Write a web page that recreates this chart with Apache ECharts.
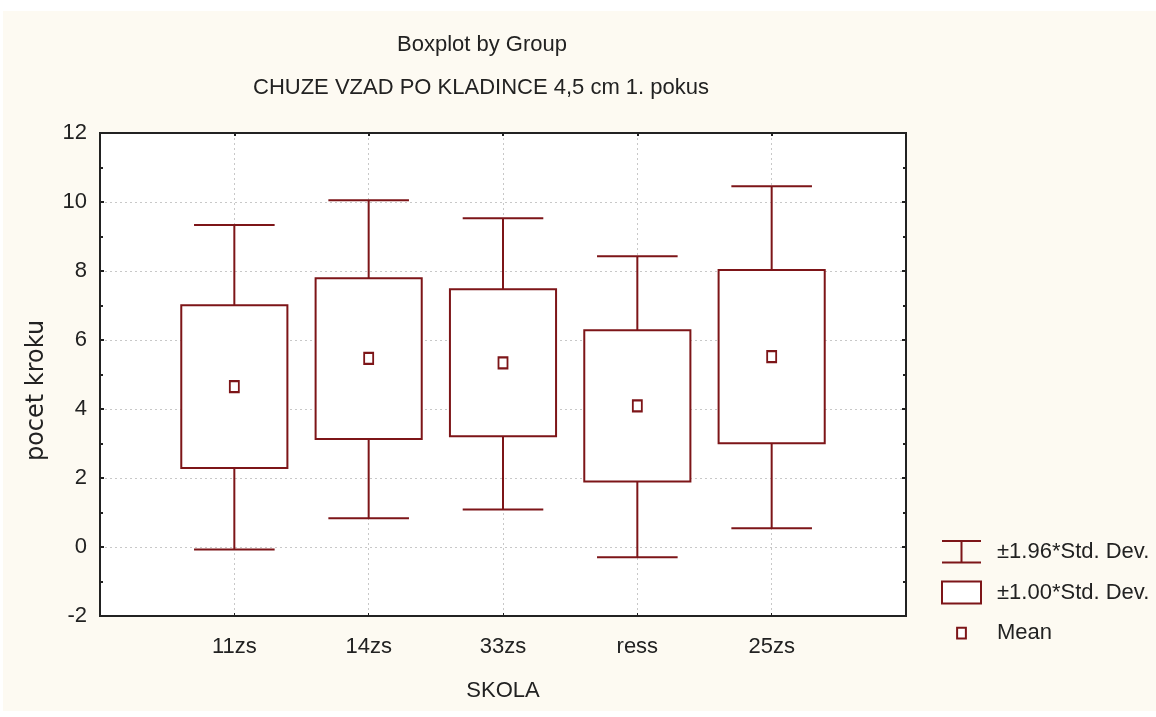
<!DOCTYPE html>
<html>
<head>
<meta charset="utf-8">
<script src="https://cdn.jsdelivr.net/npm/echarts@6/dist/echarts.min.js"></script>
<style>
html,body{margin:0;padding:0;background:#fff;}
#chart{width:1156px;height:717px;}
</style>
</head>
<body>
<div id="chart"></div>
<script>
// ---- data ----
var categories = ['11zs', '14zs', '33zs', 'ress', '25zs'];
var whiskerLow = [-0.07, 0.83, 1.09, -0.30, 0.54];   // mean - 1.96*SD
var boxLow     = [2.29, 3.13, 3.21, 1.90, 3.01];     // mean - 1.00*SD
var means      = [4.65, 5.47, 5.34, 4.09, 5.52];
var boxHigh    = [7.01, 7.79, 7.47, 6.28, 8.03];     // mean + 1.00*SD
var whiskerHigh= [9.33, 10.05, 9.53, 8.43, 10.46];   // mean + 1.96*SD
var yTicks     = [-2, 0, 2, 4, 6, 8, 10, 12];

var titleText = 'Boxplot by Group';
var subTitleText = 'CHUZE VZAD PO KLADINCE 4,5 cm 1. pokus';
var xName = 'SKOLA';
var yName = 'pocet kroku';
var legendNames = ['\u00b11.96*Std. Dev.', '\u00b11.00*Std. Dev.', 'Mean'];

// ---- build ----
var RED = '#7d1518';
var INK = '#222';
var FONT = "'Liberation Sans',Arial,sans-serif";
var axisCats = [''].concat(categories).concat(['']);

var whiskerData = categories.map(function (c, i) { return [i + 1, whiskerLow[i], boxLow[i], boxHigh[i], whiskerHigh[i]]; });
var boxData = categories.map(function (c, i) { return [i + 1, boxLow[i], boxHigh[i]]; });
var meanData = categories.map(function (c, i) { return [i + 1, means[i]]; });

var chart = echarts.init(document.getElementById('chart'), null, {renderer: 'canvas'});

function whiskerItem(params, api) {
  var x = api.value(0);
  var pWL = api.coord([x, api.value(1)]);
  var pBL = api.coord([x, api.value(2)]);
  var pBH = api.coord([x, api.value(3)]);
  var pWH = api.coord([x, api.value(4)]);
  var band = api.size([1, 0])[0];
  var cap = band * 0.6 / 2;
  var st = {stroke: RED, lineWidth: 2, fill: null};
  return {
    type: 'group',
    children: [
      {type: 'line', shape: {x1: pWL[0], y1: pWL[1], x2: pBL[0], y2: pBL[1]}, style: st},
      {type: 'line', shape: {x1: pBH[0], y1: pBH[1], x2: pWH[0], y2: pWH[1]}, style: st},
      {type: 'line', shape: {x1: pWL[0] - cap, y1: pWL[1], x2: pWL[0] + cap, y2: pWL[1]}, style: st},
      {type: 'line', shape: {x1: pWH[0] - cap, y1: pWH[1], x2: pWH[0] + cap, y2: pWH[1]}, style: st}
    ]
  };
}

function boxItem(params, api) {
  var x = api.value(0);
  var pL = api.coord([x, api.value(1)]);
  var pH = api.coord([x, api.value(2)]);
  var band = api.size([1, 0])[0];
  var w = band * 0.79;
  return {
    type: 'rect',
    shape: {x: pL[0] - w / 2, y: pH[1], width: w, height: pL[1] - pH[1]},
    style: {fill: '#fff', stroke: RED, lineWidth: 2}
  };
}

var option = {
  backgroundColor: '#fff',
  animation: false,
  graphic: [
    {type: 'rect', z: -100, shape: {x: 3, y: 11, width: 1153, height: 700}, style: {fill: '#fdfaf2'}, silent: true}
  ],
  title: [
    {text: titleText, left: 477, top: 29, textAlign: 'center',
     textStyle: {fontFamily: FONT, fontSize: 22, fontWeight: 'normal', color: INK}},
    {text: subTitleText, left: 476, top: 72, textAlign: 'center',
     textStyle: {fontFamily: FONT, fontSize: 22, fontWeight: 'normal', color: INK}}
  ],
  legend: {
    orient: 'vertical',
    left: 936, top: 535,
    itemWidth: 39, itemHeight: 22, itemGap: 17,
    selectedMode: false,
    textStyle: {fontFamily: FONT, fontSize: 22, lineHeight: 22, color: INK, padding: [0, 0, 0, 11]},
    data: [
      {name: legendNames[0], icon: 'path://M0,0H40M20,0V22M0,22H40',
       itemStyle: {color: 'transparent', borderColor: RED, borderWidth: 2}},
      {name: legendNames[1], icon: 'rect',
       itemStyle: {color: '#fff', borderColor: RED, borderWidth: 2}},
      {name: legendNames[2], icon: 'path://M0,0M40,22M15.5,5.5H24.5V16.5H15.5Z',
       itemStyle: {color: '#fff', borderColor: RED, borderWidth: 2}}
    ]
  },
  grid: {
    left: 100, top: 133, right: 250, bottom: 101,
    show: true, backgroundColor: '#fff', borderColor: INK, borderWidth: 2, containLabel: false
  },
  xAxis: [
    {
      type: 'category', data: axisCats, boundaryGap: false, position: 'bottom',
      name: xName, nameLocation: 'middle', nameGap: 64,
      nameTextStyle: {fontFamily: FONT, fontSize: 22, color: INK},
      axisLine: {show: true, onZero: false, lineStyle: {color: INK, width: 2}},
      axisTick: {show: true, inside: true, length: 3, lineStyle: {color: INK, width: 1}},
      axisLabel: {fontFamily: FONT, fontSize: 22, color: INK, margin: 20, interval: 0},
      splitLine: {show: true, lineStyle: {color: '#c8c8c8', width: 1, type: [2, 3]}}
    },
    {
      type: 'category', data: axisCats, boundaryGap: false, position: 'top',
      axisLine: {show: true, onZero: false, lineStyle: {color: INK, width: 2}},
      axisTick: {show: true, inside: true, length: 3, lineStyle: {color: INK, width: 2}},
      axisLabel: {show: false}, splitLine: {show: false}
    }
  ],
  yAxis: [
    {
      type: 'value', min: yTicks[0], max: yTicks[yTicks.length - 1], interval: 2,
      name: yName, nameLocation: 'middle', nameGap: 51, nameRotate: 90,
      nameTextStyle: {fontFamily: "'DejaVu Sans',sans-serif", fontSize: 24, color: INK, padding: [0, 32, 0, 0]},
      axisLine: {show: true, onZero: false, lineStyle: {color: INK, width: 2}},
      axisTick: {show: true, inside: true, length: 4, lineStyle: {color: INK, width: 2}},
      minorTick: {show: true, splitNumber: 2, length: 3, lineStyle: {color: INK, width: 2}},
      axisLabel: {fontFamily: FONT, fontSize: 22, color: INK, margin: 13},
      splitLine: {show: true, lineStyle: {color: '#c8c8c8', width: 1, type: [2, 3]}}
    },
    {
      type: 'value', min: yTicks[0], max: yTicks[yTicks.length - 1], interval: 2, position: 'right',
      axisLine: {show: true, onZero: false, lineStyle: {color: INK, width: 2}},
      axisTick: {show: true, inside: true, length: 4, lineStyle: {color: INK, width: 2}},
      minorTick: {show: true, splitNumber: 2, length: 3, lineStyle: {color: INK, width: 2}},
      axisLabel: {show: false}, splitLine: {show: false}
    }
  ],
  series: [
    {
      name: legendNames[0], type: 'custom', xAxisIndex: 0, yAxisIndex: 0,
      renderItem: whiskerItem, data: whiskerData, itemStyle: {color: RED},
      encode: {x: 0, y: [1, 2, 3, 4]}, z: 3
    },
    {
      name: legendNames[1], type: 'custom', xAxisIndex: 0, yAxisIndex: 0,
      renderItem: boxItem, data: boxData, itemStyle: {color: RED},
      encode: {x: 0, y: [1, 2]}, z: 4
    },
    {
      name: legendNames[2], type: 'scatter', xAxisIndex: 0, yAxisIndex: 0,
      data: meanData, symbol: 'rect', symbolSize: [9, 11],
      itemStyle: {color: '#fff', borderColor: RED, borderWidth: 2, opacity: 1}, z: 5
    }
  ]
};
chart.setOption(option);
</script>
</body>
</html>
